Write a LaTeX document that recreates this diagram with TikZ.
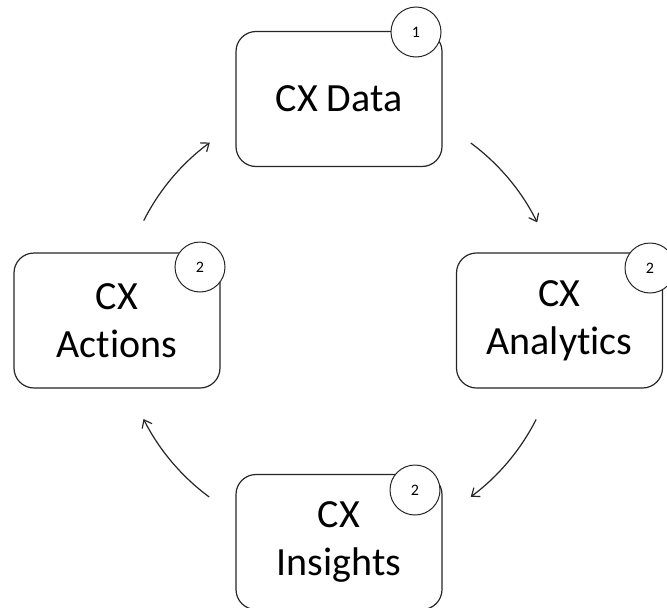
\documentclass[tikz,border=0pt]{standalone}
\usepackage{fontspec}
\setmainfont[Ligatures=NoCommon]{Carlito}
\usetikzlibrary{arrows.meta}
\begin{document}
\begin{tikzpicture}[x=1pt,y=-1pt,
  stepbox/.style={draw=black!85, line width=1.2pt, rounded corners=20pt, fill=white,
    minimum width=206pt, minimum height=135pt, inner sep=0pt, align=center,
    font=\fontsize{40}{48}\selectfont, text=black},
  badge/.style={draw=black!85, line width=1pt, circle, fill=white,
    minimum size=50pt, inner sep=0pt, font=\fontsize{16}{18}\selectfont, text=black},
  flow/.style={draw=black!85, line width=1.2pt, -{Straight Barb[length=7pt,width=11pt]}}]
\useasboundingbox (0,0) rectangle (667,608);
\node[stepbox] (data) at (339,99) {CX Data};
\node[stepbox] (analytics) at (559.5,320.5) {CX\\Analytics};
\node[stepbox] (actions) at (117,320.5) {CX\\Actions};
\node[stepbox] (insights) at (339,542) {CX\\Insights};
\node[badge] (b1) at (416,32) {1};
\node[badge] (b2) at (650,268) {2};
\node[badge] (b3) at (200,267) {2};
\node[badge] (b4) at (415,490) {2};
\coordinate (c) at (340,320);
\draw[flow] (c) ++(-196.3,-99.3) arc[start angle=-153.2, end angle=-126.3, radius=220];
\draw[flow] (c) ++(130.8,-177.0) arc[start angle=-53.5, end angle=-26.3, radius=220];
\draw[flow] (c) ++(196.1,99.5) arc[start angle=26.9, end angle=53.5, radius=220];
\draw[flow] (c) ++(-130.8,177.0) arc[start angle=126.5, end angle=153.3, radius=220];
\end{tikzpicture}
\end{document}
